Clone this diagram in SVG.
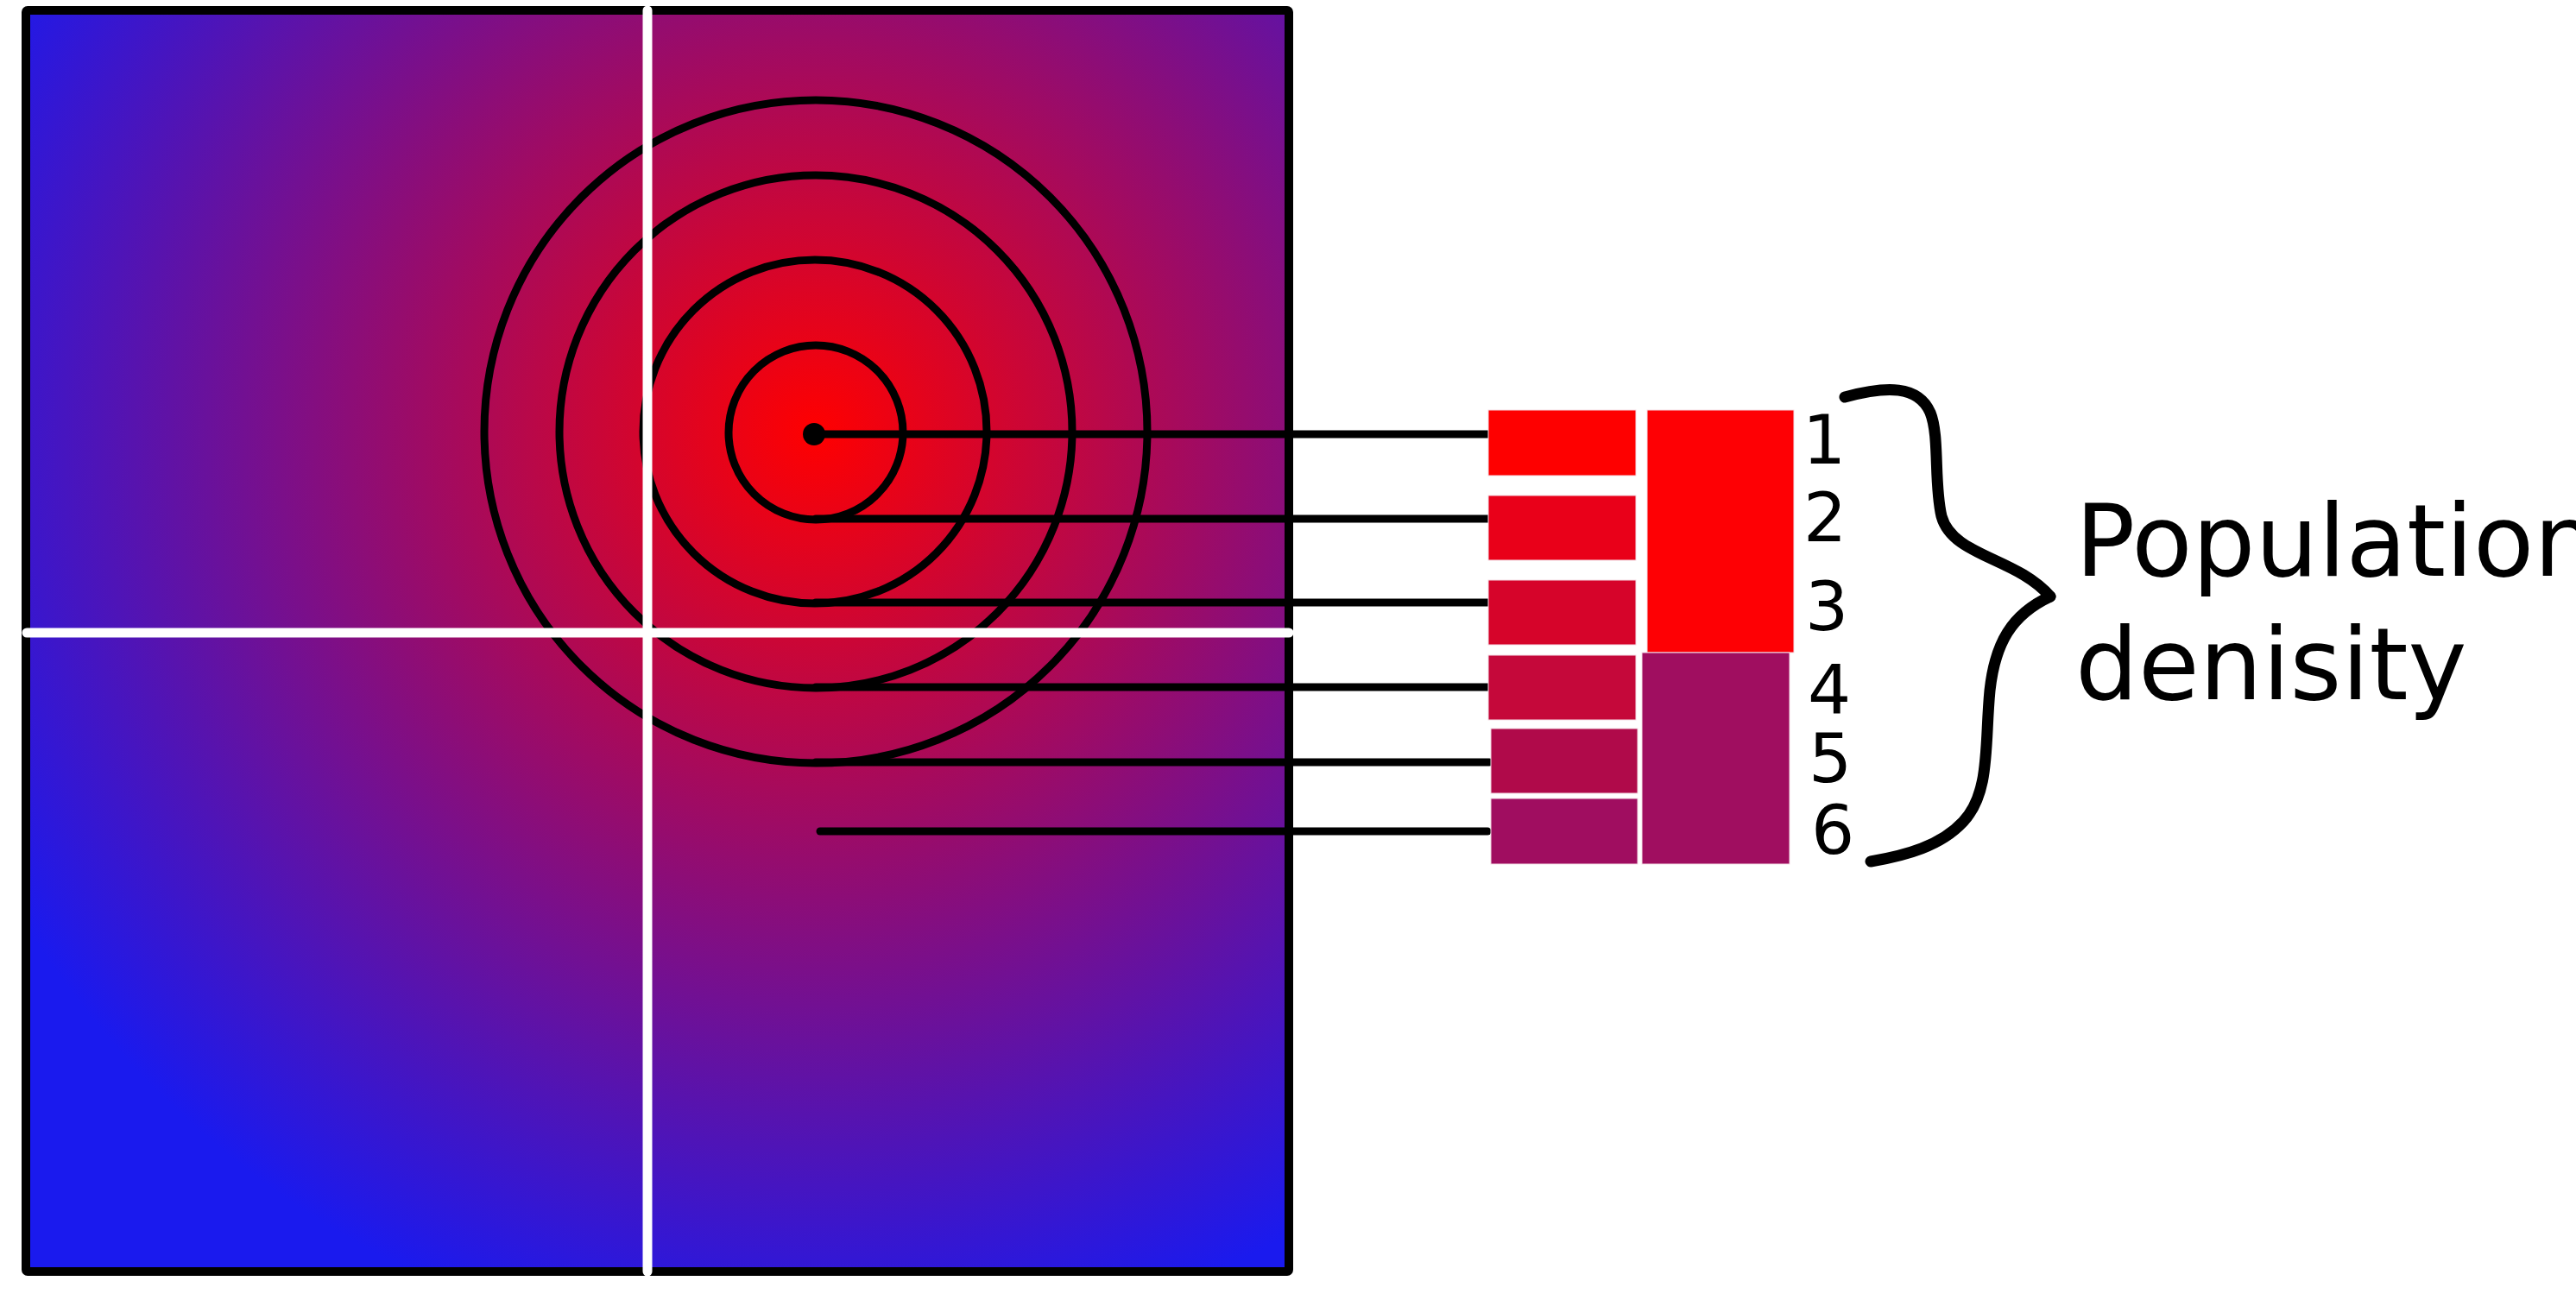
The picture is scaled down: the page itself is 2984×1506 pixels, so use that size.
<svg xmlns="http://www.w3.org/2000/svg" width="2984" height="1506" viewBox="0 0 2984 1506">
  <defs>
    <radialGradient id="density" gradientUnits="userSpaceOnUse" cx="945" cy="500" r="1080">
      <stop offset="0" stop-color="#ff0000"/>
      <stop offset="1" stop-color="#1a1aee"/>
    </radialGradient>
    <style>
      .ring { fill: none; stroke: #000; stroke-width: 9; }
      .conn { fill: none; stroke: #000; stroke-width: 9; stroke-linecap: round; }
      .grid { fill: none; stroke: #fff; stroke-width: 11; stroke-linecap: round; }
      .num { font-family: "DejaVu Sans", "Liberation Sans", sans-serif; font-size: 79px; fill: #000; }
      .title { font-family: "DejaVu Sans", "Liberation Sans", sans-serif; font-size: 115px; fill: #000; }
      .swatch { stroke: #f4dde6; stroke-width: 1; }
      .brace { fill: none; stroke: #000; stroke-width: 13; stroke-linecap: round; stroke-linejoin: round; }
    </style>
  </defs>
  <rect width="2984" height="1506" fill="#fff"/>

  <g id="map">
    <rect x="30" y="12" width="1463" height="1461" rx="2" fill="url(#density)" stroke="#000" stroke-width="10" stroke-linejoin="round"/>
  </g>

  <g id="rings">
    <circle class="ring" cx="945" cy="501" r="101"/>
    <circle class="ring" cx="944" cy="500" r="199"/>
    <circle class="ring" cx="945" cy="500" r="297"/>
    <circle class="ring" cx="945" cy="500" r="384"/>
    <circle cx="943" cy="503" r="13" fill="#000"/>
  </g>

  <g id="grid-lines">
    <line class="grid" x1="750" y1="12" x2="750" y2="1473"/>
    <line class="grid" x1="31" y1="733" x2="1493" y2="733"/>
  </g>

  <g id="connectors">
    <line class="conn" x1="943" y1="503" x2="1732" y2="503"/>
    <line class="conn" x1="945" y1="601" x2="1728" y2="601"/>
    <line class="conn" x1="945" y1="698" x2="1728" y2="698"/>
    <line class="conn" x1="945" y1="796" x2="1725" y2="796"/>
    <line class="conn" x1="945" y1="883" x2="1725" y2="883"/>
    <line class="conn" x1="950" y1="963" x2="1723" y2="963"/>
  </g>

  <g id="swatch-1"><rect class="swatch" x="1724" y="475" width="171" height="76" fill="#fe0000"/></g>
  <g id="swatch-2"><rect class="swatch" x="1724" y="574" width="171" height="75" fill="#e90019"/></g>
  <g id="swatch-3"><rect class="swatch" x="1724" y="672" width="171" height="75" fill="#d6042a"/></g>
  <g id="swatch-4"><rect class="swatch" x="1724" y="759" width="171" height="75" fill="#c5083a"/></g>
  <g id="swatch-5"><rect class="swatch" x="1727" y="844" width="170" height="75" fill="#b00a4a"/></g>
  <g id="swatch-6"><rect class="swatch" x="1727" y="925" width="170" height="76" fill="#a00d60"/></g>
  <g id="group-high"><rect class="swatch" x="1908" y="475" width="170" height="281" fill="#fe0004"/></g>
  <g id="group-low"><rect class="swatch" x="1902" y="756" width="171" height="245" fill="#a00e60"/></g>

  <g id="labels">
    <text class="num" x="2088" y="537">1</text>
    <text class="num" x="2089" y="627">2</text>
    <text class="num" x="2091" y="730">3</text>
    <text class="num" x="2094" y="827">4</text>
    <text class="num" x="2095" y="906">5</text>
    <text class="num" x="2098" y="989">6</text>
  </g>

  <g id="brace">
    <path class="brace" d="M2137,460 C2185,447 2222,446 2236,478 C2247,505 2240,560 2249,598 C2262,645 2335,645 2375,691"/>
    <path class="brace" d="M2375,691 C2330,712 2311,745 2305,800 C2299,862 2306,918 2274,952 C2248,980 2208,991 2167,998"/>
  </g>

  <g id="title">
    <text class="title" x="2404" y="667">Population</text>
    <text class="title" x="2404" y="810">denisity</text>
  </g>
</svg>
